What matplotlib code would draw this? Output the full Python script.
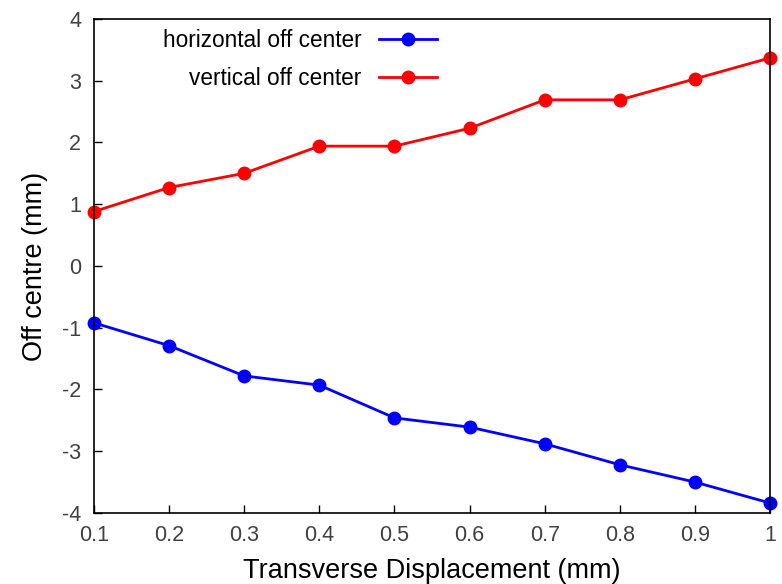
import matplotlib
matplotlib.use("Agg")
import matplotlib.pyplot as plt

x = [0.1, 0.2, 0.3, 0.4, 0.5, 0.6, 0.7, 0.8, 0.9, 1.0]
horizontal = [-0.92, -1.29, -1.78, -1.93, -2.46, -2.61, -2.88, -3.22, -3.50, -3.84]
vertical = [0.88, 1.27, 1.50, 1.94, 1.94, 2.23, 2.69, 2.69, 3.03, 3.37]
xticks = [0.1, 0.2, 0.3, 0.4, 0.5, 0.6, 0.7, 0.8, 0.9, 1.0]
xticklabels = ["0.1", "0.2", "0.3", "0.4", "0.5", "0.6", "0.7", "0.8", "0.9", "1"]
yticks = [-4, -3, -2, -1, 0, 1, 2, 3, 4]
yticklabels = ["-4", "-3", "-2", "-1", "0", "1", "2", "3", "4"]

plt.rcParams['font.family'] = ['Liberation Sans', 'DejaVu Sans']
plt.rcParams['axes.unicode_minus'] = False

fig = plt.figure(figsize=(7.82, 5.84), dpi=100)
ax = fig.add_axes([0.120, 0.1216, 0.865, 0.846])

ax.plot(x, horizontal, color='#0000ff', marker='o', markersize=9, linewidth=2,
        label='horizontal off center', clip_on=False)
ax.plot(x, vertical, color='#ff0000', marker='o', markersize=9, linewidth=2,
        label='vertical off center', clip_on=False)

ax.set_xlim(0.1, 1.0)
ax.set_ylim(-4, 4)
ax.set_xticks(xticks)
ax.set_xticklabels(xticklabels)
ax.set_yticks(yticks)
ax.set_yticklabels(yticklabels)
ax.tick_params(direction='in', length=6, width=1, labelsize=15.5, labelcolor='#404040', pad=9)
for s in ax.spines.values():
    s.set_linewidth(1.2)

ax.set_xlabel('Transverse Displacement (mm)', fontsize=19.5, labelpad=8)
ax.set_ylabel('Off centre (mm)', fontsize=19.5, labelpad=10)

leg = ax.legend(loc='upper left', bbox_to_anchor=(0.072, 1.02), markerfirst=False, frameon=False,
                prop={'size': 16.3}, handlelength=2.6, handletextpad=0.75, labelspacing=0.65)
for t in leg.get_texts():
    t.set_ha('right')
leg._legend_box.align = 'right'

fig.savefig('out.png', dpi=100)
